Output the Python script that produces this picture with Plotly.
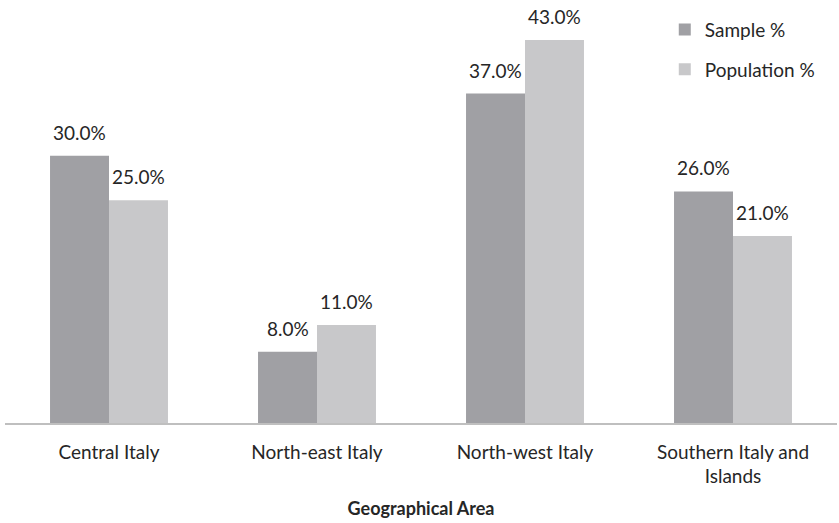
import plotly.graph_objects as go

# Regional distribution: survey sample vs. national population
areas = ["Central Italy", "North-east Italy", "North-west Italy", "Southern Italy and<br>Islands"]
sample_pct = [30.0, 8.0, 37.0, 26.0]
population_pct = [25.0, 11.0, 43.0, 21.0]

FONT = "Lato"
TEXT = "#262626"
W, H = 839, 523
M = dict(l=5, r=2, t=0, b=100)
BARGAP = 0.433

series = [
    ("Sample %", sample_pct, "#a0a0a4", "s"),
    ("Population %", population_pct, "#c8c8ca", "p"),
]

fig = go.Figure()
for name, vals, color, grp in series:
    fig.add_trace(go.Bar(
        name=name, x=areas, y=vals, legendgroup=grp,
        marker=dict(color=color, line=dict(width=0)),
        hovertemplate="%{x}: %{y:.1f}%<extra>" + name + "</extra>",
    ))

# value labels above each bar, centred on its bar within the group
plot_w = W - M["l"] - M["r"]
bar_px = plot_w / len(areas) * (1 - BARGAP) / len(series)
for i, (name, vals, color, grp) in enumerate(series):
    shift = (i - (len(series) - 1) / 2) * bar_px
    for a, v in zip(areas, vals):
        fig.add_annotation(
            x=a, y=v, xref="x", yref="y", text=f"{v:.1f}%",
            showarrow=False, xshift=shift, yshift=10, yanchor="bottom",
            font=dict(family=FONT, size=19, color=TEXT),
        )

fig.update_layout(
    width=W, height=H, margin=M,
    paper_bgcolor="white", plot_bgcolor="white",
    barmode="group", bargap=BARGAP, bargroupgap=0,
    font=dict(family=FONT, size=19, color=TEXT),
    legend=dict(
        x=0.793, y=0.975, xanchor="left", yanchor="top",
        traceorder="grouped", tracegroupgap=12,
        font=dict(family=FONT, size=19, color=TEXT),
        bgcolor="rgba(0,0,0,0)",
    ),
    xaxis=dict(
        showline=True, linecolor="#bfbfbf", linewidth=1.5,
        ticks="", showgrid=False, ticklabelstandoff=11,
        tickfont=dict(family=FONT, size=19, color=TEXT),
        title=dict(text="<b>Geographical Area</b>", standoff=16,
                   font=dict(family=FONT, size=18, color=TEXT)),
    ),
    yaxis=dict(range=[0, 47.5], visible=False, showgrid=False),
)

fig.write_html("out.html")
